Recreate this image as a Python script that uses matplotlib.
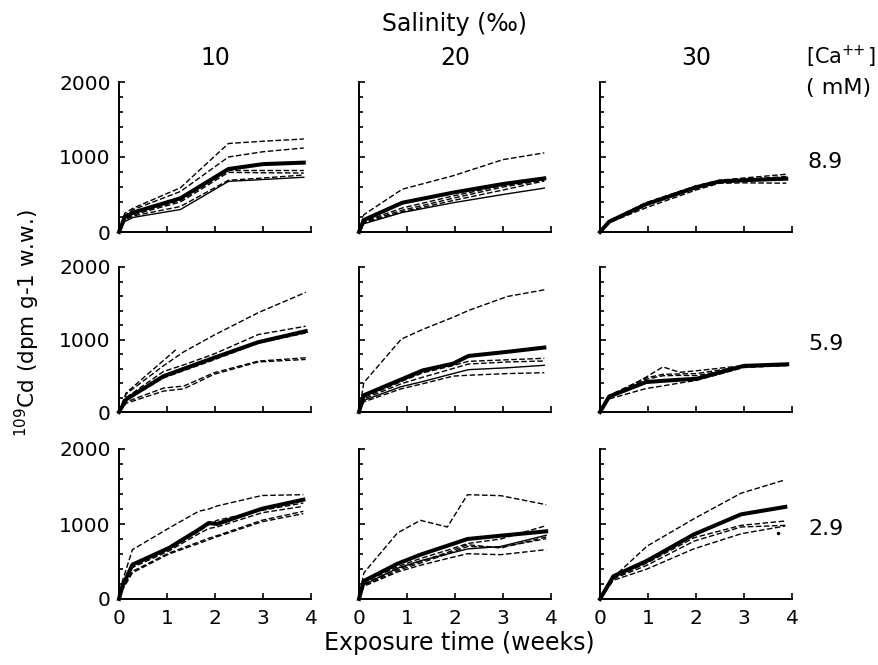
import matplotlib
matplotlib.use("Agg")
import matplotlib.pyplot as plt
from matplotlib.ticker import MultipleLocator, FixedLocator

# ---------------- labels ----------------
salinities = ["10", "20", "30"]
calcium = ["8.9", "5.9", "2.9"]
x_ticks = [0, 1, 2, 3, 4]
y_ticks = [0, 1000, 2000]

# ---------------- data (time in weeks, 109Cd in dpm g-1 w.w.) ----------------
# Ca 8.9 mM, salinity 10
t_a = [0, 0.12, 0.3, 1.28, 2.28, 3.0, 3.85]
mean_a = [0, 200, 260, 450, 840, 905, 925]
thin_a = [0, 140, 195, 300, 675, 700, 730]
dashed_a = [
    [0, 250, 320, 590, 1180, 1210, 1240],
    [0, 220, 300, 540, 1000, 1070, 1120],
    [0, 180, 250, 420, 820, 820, 820],
    [0, 170, 230, 400, 795, 790, 786],
    [0, 160, 215, 340, 690, 720, 760],
]

# Ca 8.9 mM, salinity 20
t_b = [0, 0.1, 0.9, 1.96, 3.0, 3.86]
mean_b = [0, 160, 390, 525, 640, 715]
thin_b = [0, 110, 260, 390, 500, 585]
dashed_b = [
    [0, 230, 570, 750, 965, 1055],
    [0, 140, 320, 480, 620, 700],
    [0, 130, 290, 450, 600, 690],
    [0, 120, 270, 420, 560, 680],
]

# Ca 8.9 mM, salinity 30
t_c = [0, 0.19, 0.95, 2.0, 2.49, 3.0, 3.88]
mean_c = [0, 137, 367, 596, 674, 690, 711]
thin_c = None
dashed_c = [
    [0, 150, 390, 615, 690, 720, 770],
    [0, 140, 370, 600, 680, 700, 740],
    [0, 125, 321, 560, 650, 655, 651],
    [0, 145, 380, 610, 685, 705, 725],
]

# Ca 5.9 mM, salinity 10
t_d = [0, 0.15, 0.93, 1.35, 1.98, 2.9, 3.89]
mean_d = [0, 175, 495, 596, 748, 963, 1115]
thin_d = None
dashed_d = [
    [0, 250, 640, 830, 1060, 1370, 1650],
    [0, 200, 560, 650, 800, 1068, 1183],
    [0, 160, 470, 570, 720, 950, 1090],
    [0, 140, 330, 358, 541, 702, 748],
    [0, 120, 289, 320, 520, 690, 725],
]
t_d_short = [0, 0.15, 1.19]
short_d = [0, 265, 862]

# Ca 5.9 mM, salinity 20
t_e = [0, 0.1, 0.88, 1.33, 1.96, 2.28, 3.09, 3.86]
mean_e = [0, 231, 449, 574, 667, 773, 830, 889]
thin_e = [0, 160, 350, 420, 530, 584, 610, 644]
dashed_e = [
    [0, 405, 1005, 1140, 1306, 1400, 1593, 1685],
    [0, 200, 420, 540, 640, 699, 720, 741],
    [0, 180, 390, 480, 600, 662, 690, 704],
    [0, 140, 320, 390, 495, 507, 530, 542],
]

# Ca 5.9 mM, salinity 30
t_f = [0, 0.19, 0.96, 1.31, 1.66, 2.01, 2.99, 3.9]
mean_f = [0, 213, 413, 430, 445, 458, 636, 658]
thin_f = None
dashed_f = [
    [0, 200, 480, 622, 547, 569, 640, 660],
    [0, 230, 470, 520, 525, 530, 630, 650],
    [0, 210, 450, 500, 505, 502, 620, 645],
    [0, 180, 324, 360, 400, 436, 613, 640],
]

# Ca 2.9 mM, salinity 10
t_g = [0, 0.07, 0.28, 1.04, 1.66, 1.87, 2.04, 2.98, 3.84]
mean_g = [0, 169, 458, 680, 924, 1013, 1000, 1204, 1324]
thin_g = None
dashed_g = [
    [0, 236, 658, 945, 1170, 1200, 1240, 1380, 1391],
    [0, 160, 440, 660, 900, 990, 1049, 1182, 1280],
    [0, 150, 420, 640, 870, 940, 960, 1150, 1236],
    [0, 130, 369, 613, 760, 810, 844, 1050, 1169],
    [0, 120, 350, 600, 740, 790, 830, 1030, 1138],
]

# Ca 2.9 mM, salinity 20
t_h = [0, 0.1, 0.8, 1.28, 1.84, 2.26, 2.95, 3.9]
mean_h = [0, 240, 470, 591, 710, 800, 844, 902]
thin_h = [0, 190, 410, 510, 600, 667, 700, 850]
dashed_h = [
    [0, 347, 880, 1049, 960, 1391, 1378, 1258],
    [0, 220, 430, 540, 650, 740, 800, 978],
    [0, 200, 400, 500, 620, 724, 680, 827],
    [0, 180, 380, 480, 600, 700, 690, 804],
    [0, 170, 360, 450, 540, 604, 591, 658],
]

# Ca 2.9 mM, salinity 30
t_i = [0, 0.28, 0.98, 1.96, 2.94, 3.86]
mean_i = [0, 304, 510, 862, 1129, 1228]
thin_i = None
dashed_i = [
    [0, 290, 705, 1071, 1411, 1589],
    [0, 280, 480, 817, 982, 1040],
    [0, 270, 450, 772, 960, 982],
    [0, 250, 400, 670, 870, 973],
]
dot_i_t = [3.7]
dot_i_v = [875]

panels = [
    [(t_a, mean_a, thin_a, dashed_a), (t_b, mean_b, thin_b, dashed_b), (t_c, mean_c, thin_c, dashed_c)],
    [(t_d, mean_d, thin_d, dashed_d), (t_e, mean_e, thin_e, dashed_e), (t_f, mean_f, thin_f, dashed_f)],
    [(t_g, mean_g, thin_g, dashed_g), (t_h, mean_h, thin_h, dashed_h), (t_i, mean_i, thin_i, dashed_i)],
]

# ---------------- figure ----------------
W, H = 879, 665
fig = plt.figure(figsize=(W / 100, H / 100), dpi=100)
plt.rcParams['font.family'] = ['DejaVu Sans']

col_left = [119, 359, 600]
col_w = 192
row_tb = [(82, 232), (267, 412), (449, 599)]

FS_TICK = 14.5
FS_LAB = 16
dash = (4.0, 1.8)

axes = {}
for r in range(3):
    for c in range(3):
        top, bot = row_tb[r]
        ax = fig.add_axes([col_left[c] / W, 1 - bot / H, col_w / W, (bot - top) / H])
        t, mean, thin, dashed = panels[r][c]
        for d in dashed:
            ax.plot(t, d, color='black', lw=1.0, linestyle=(0, dash), clip_on=False)
        if thin is not None:
            ax.plot(t, thin, color='black', lw=1.0, clip_on=False)
        ax.plot(t, mean, color='black', lw=2.9, solid_joinstyle='round', clip_on=False)
        ax.set_xlim(0, 4)
        ax.set_ylim(0, 2000)
        for s in ['top', 'right']:
            ax.spines[s].set_visible(False)
        for s in ['left', 'bottom']:
            ax.spines[s].set_linewidth(1.4)
        ax.xaxis.set_major_locator(FixedLocator(x_ticks))
        ax.yaxis.set_major_locator(FixedLocator(y_ticks))
        ax.yaxis.set_minor_locator(MultipleLocator(200))
        ax.tick_params(axis='both', which='both', direction='in', width=1.2,
                       labelsize=FS_TICK)
        ax.tick_params(axis='y', which='major', pad=6)
        ax.tick_params(axis='x', which='major', pad=7)
        ax.tick_params(axis='both', which='major', length=4)
        ax.tick_params(axis='y', which='minor', length=3)
        if c != 0:
            ax.set_yticklabels([])
        if r != 2:
            ax.set_xticklabels([])
        axes[(r, c)] = ax

# extras
axes[(1, 0)].plot(t_d_short, short_d, color='black', lw=1.0, linestyle=(0, dash))
axes[(2, 2)].plot(dot_i_t, dot_i_v, 'o', color='black', ms=1.5)

# ---------------- text ----------------
def ftext(x, y, s, **kw):
    fig.text(x / W, 1 - y / H, s, **kw)

ftext(455, 24, "Salinity (‰)", ha='center', va='center', fontsize=FS_LAB + 1)
for c, lab in enumerate(salinities):
    ftext(col_left[c] + col_w / 2, 58, lab, ha='center', va='center', fontsize=FS_LAB + 1)
ftext(806, 57, "[Ca$^{+\\!\\!+}$]", ha='left', va='center', fontsize=FS_LAB - 1)
ftext(806, 88, "( mM)", ha='left', va='center', fontsize=FS_LAB)
for r, lab in enumerate(calcium):
    top, bot = row_tb[r]
    ftext(808, (top + bot) / 2 + 5, lab, ha='left', va='center', fontsize=FS_LAB)

ftext(27, 323, "$^{109}$Cd (dpm g-1 w.w.)", ha='center', va='center',
      rotation=90, fontsize=FS_LAB - 0.5)
ftext(459, 643, "Exposure time (weeks)", ha='center', va='center', fontsize=FS_LAB + 1)

fig.savefig("out.png", dpi=100)
